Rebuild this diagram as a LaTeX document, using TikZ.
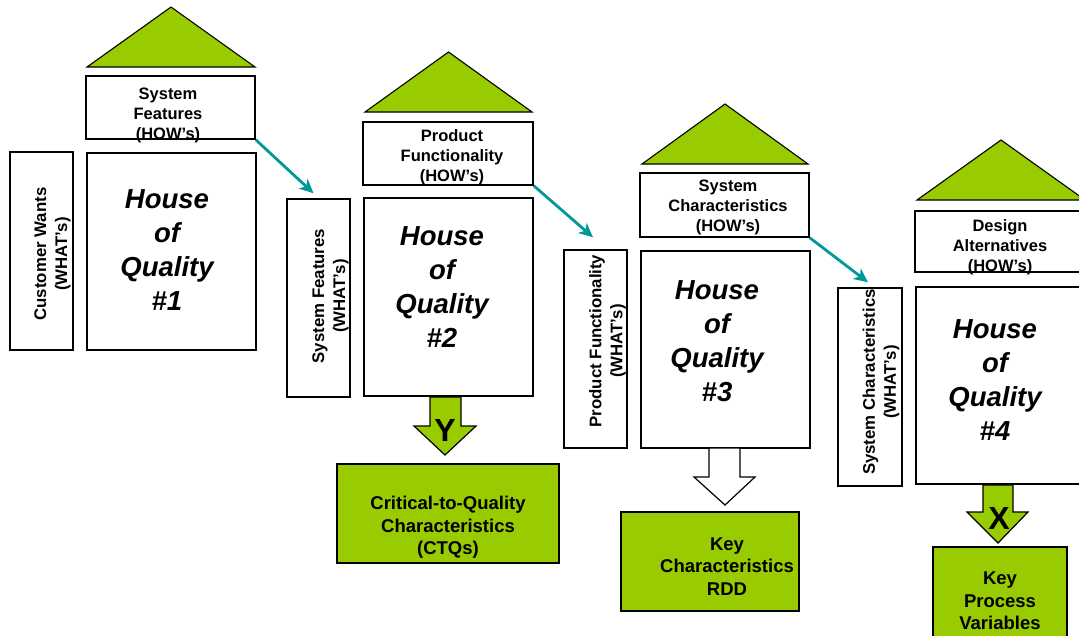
\documentclass[tikz,border=0pt]{standalone}
\usepackage{fontspec}
\setmainfont{Liberation Sans}
\usetikzlibrary{arrows.meta,calc}
\definecolor{qgreen}{RGB}{153,204,0}
\definecolor{qteal}{RGB}{0,153,153}
\tikzset{
  box/.style={draw=black, line width=1.5pt, fill=white, inner sep=0pt},
  howbox/.style={box, minimum width=169pt, minimum height=63pt},
  hoqbox/.style={box, minimum width=169pt, minimum height=197pt},
  whatbox/.style={box, minimum width=63pt, minimum height=198pt},
  outbox/.style={draw=black, line width=1.5pt, fill=qgreen, inner sep=0pt, minimum height=99pt},
  roof/.style={draw=black, line width=1.1pt, fill=qgreen},
  blockarrow/.style={draw=black, line width=1.2pt},
  conn/.style={draw=qteal, line width=2.8pt, -{Stealth[length=14pt,width=13pt,inset=4pt]}},
  howtxt/.style={align=center, inner sep=0pt, font=\fontsize{16.5}{20}\selectfont\bfseries},
  whattxt/.style={align=center, inner sep=0pt, rotate=90, font=\fontsize{16.8}{21}\selectfont\bfseries},
  hoqtxt/.style={align=center, inner sep=0pt, font=\fontsize{27.5}{34}\selectfont\bfseries\itshape},
  outtxt/.style={align=center, inner sep=0pt, font=\fontsize{18.5}{22.5}\selectfont\bfseries},
  bigletter/.style={inner sep=0pt, font=\fontsize{32}{32}\selectfont\bfseries}
}
\begin{document}
\begin{tikzpicture}[x=1pt,y=-1pt]
\useasboundingbox (0,0) rectangle (1079,635);

% roofs
\draw[roof] (87,67) -- (171,7) -- (255,67) -- cycle;
\draw[roof] (365,112) -- (448.5,52) -- (532,112) -- cycle;
\draw[roof] (642,164) -- (725,104) -- (808,164) -- cycle;
\draw[roof] (917,200) -- (1001,140) -- (1085,200) -- cycle;

% House 1
\node[howbox] (how1) at (170.5,107.5) {};
\node[hoqbox] (hoq1) at (171.5,251.5) {};
\node[whatbox] (what1) at (41.5,251) {};
\node[howtxt] (how1t) at (168,115.5) {System\\Features\\(HOW’s)};
\node[whattxt] (what1t) at (52.5,254) {Customer Wants\\(WHAT’s)};
\node[hoqtxt] (hoq1t) at (167,250) {House\\of\\Quality\\\#1};

% House 2
\node[howbox, minimum width=170pt] (how2) at (448,153.5) {};
\node[hoqbox, minimum height=198pt] (hoq2) at (448.5,297) {};
\node[whatbox] (what2) at (318.5,298) {};
\node[howtxt] (how2t) at (452,157) {Product\\Functionality\\(HOW’s)};
\node[whattxt] (what2t) at (330.5,296) {System Features\\(WHAT’s)};
\node[hoqtxt] (hoq2t) at (442,287.5) {House\\of\\Quality\\\#2};

% House 3
\node[howbox, minimum height=64pt] (how3) at (724.5,205) {};
\node[hoqbox] (hoq3) at (725.5,349.5) {};
\node[whatbox] (what3) at (595.5,349) {};
\node[howtxt] (how3t) at (728,207) {System\\Characteristics\\(HOW’s)};
\node[whattxt] (what3t) at (607.5,341) {Product Functionality\\(WHAT’s)};
\node[hoqtxt] (hoq3t) at (717,341) {House\\of\\Quality\\\#3};

% House 4
\node[howbox, minimum width=170pt, minimum height=61pt] (how4) at (1000,241.5) {};
\node[hoqbox] (hoq4) at (1000.5,385.5) {};
\node[whatbox, minimum width=64pt] (what4) at (870,387) {};
\node[howtxt] (how4t) at (1000,247.5) {Design\\Alternatives\\(HOW’s)};
\node[whattxt] (what4t) at (881,382) {System Characteristics\\(WHAT’s)};
\node[hoqtxt] (hoq4t) at (995,380) {House\\of\\Quality\\\#4};

% connectors
\draw[conn] (how1.south east) -- ($(what2.north)+(-5,-5)$);
\draw[conn] (how2.south east) -- ($(what3.north)+(-2.5,-12)$);
\draw[conn] (how3.south east) -- ($(what4.north)+(-2,-5)$);

% block arrows
\draw[blockarrow, fill=qgreen] (430,397) -- (461,397) -- (461,426) -- (476,426) -- (445,455) -- (414,426) -- (430,426) -- cycle;
\node[bigletter] (ylet) at (445,430) {Y};
\draw[blockarrow, fill=white] (709,448) -- (740,448) -- (740,477) -- (755,477) -- (725,505) -- (694,477) -- (709,477) -- cycle;
\draw[blockarrow, fill=qgreen] (983,485) -- (1013,485) -- (1013,512) -- (1028,512) -- (998,543) -- (967,512) -- (983,512) -- cycle;
\node[bigletter] (xlet) at (999,518) {X};

% outputs
\node[outbox, minimum width=222pt] (ctq) at (448,513.5) {};
\node[outtxt] (ctqt) at (448,527.5) {Critical-to-Quality\\Characteristics\\(CTQs)};
\node[outbox, minimum width=178pt] (kc) at (710,561.5) {};
\node[outtxt] (kct) at (727,566.5) {Key\\Characteristics\\RDD};
\node[outbox, minimum width=134pt, minimum height=98pt] (kpv) at (1000,596) {};
\node[outtxt] (kpvt) at (1000,601) {Key\\Process\\Variables};
\end{tikzpicture}
\end{document}
